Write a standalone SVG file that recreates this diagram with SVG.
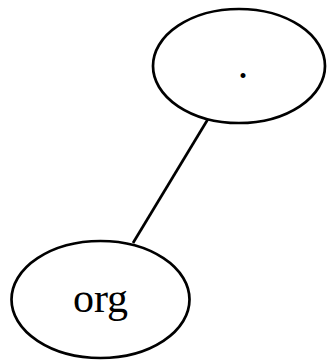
<svg xmlns="http://www.w3.org/2000/svg" width="327" height="362" viewBox="0 0 327 362">
  <style>
    .node ellipse { fill: none; stroke: #000; stroke-width: 2.7; }
    .node text { font-family: "Liberation Serif", "Times New Roman", serif; font-size: 42px; text-anchor: middle; fill: #000; }
    .edge line { stroke: #000; stroke-width: 2.7; }
  </style>
  <rect width="327" height="362" fill="#fff"/>
  <g id="edges" class="edge">
    <line x1="208" y1="119" x2="133" y2="243"/>
  </g>
  <g id="node-root" class="node">
    <ellipse cx="239" cy="66" rx="86" ry="57"/>
    <text x="243" y="78">.</text>
  </g>
  <g id="node-org" class="node">
    <ellipse cx="100.5" cy="299.5" rx="89" ry="58.5"/>
    <text x="100.5" y="312">org</text>
  </g>
</svg>
